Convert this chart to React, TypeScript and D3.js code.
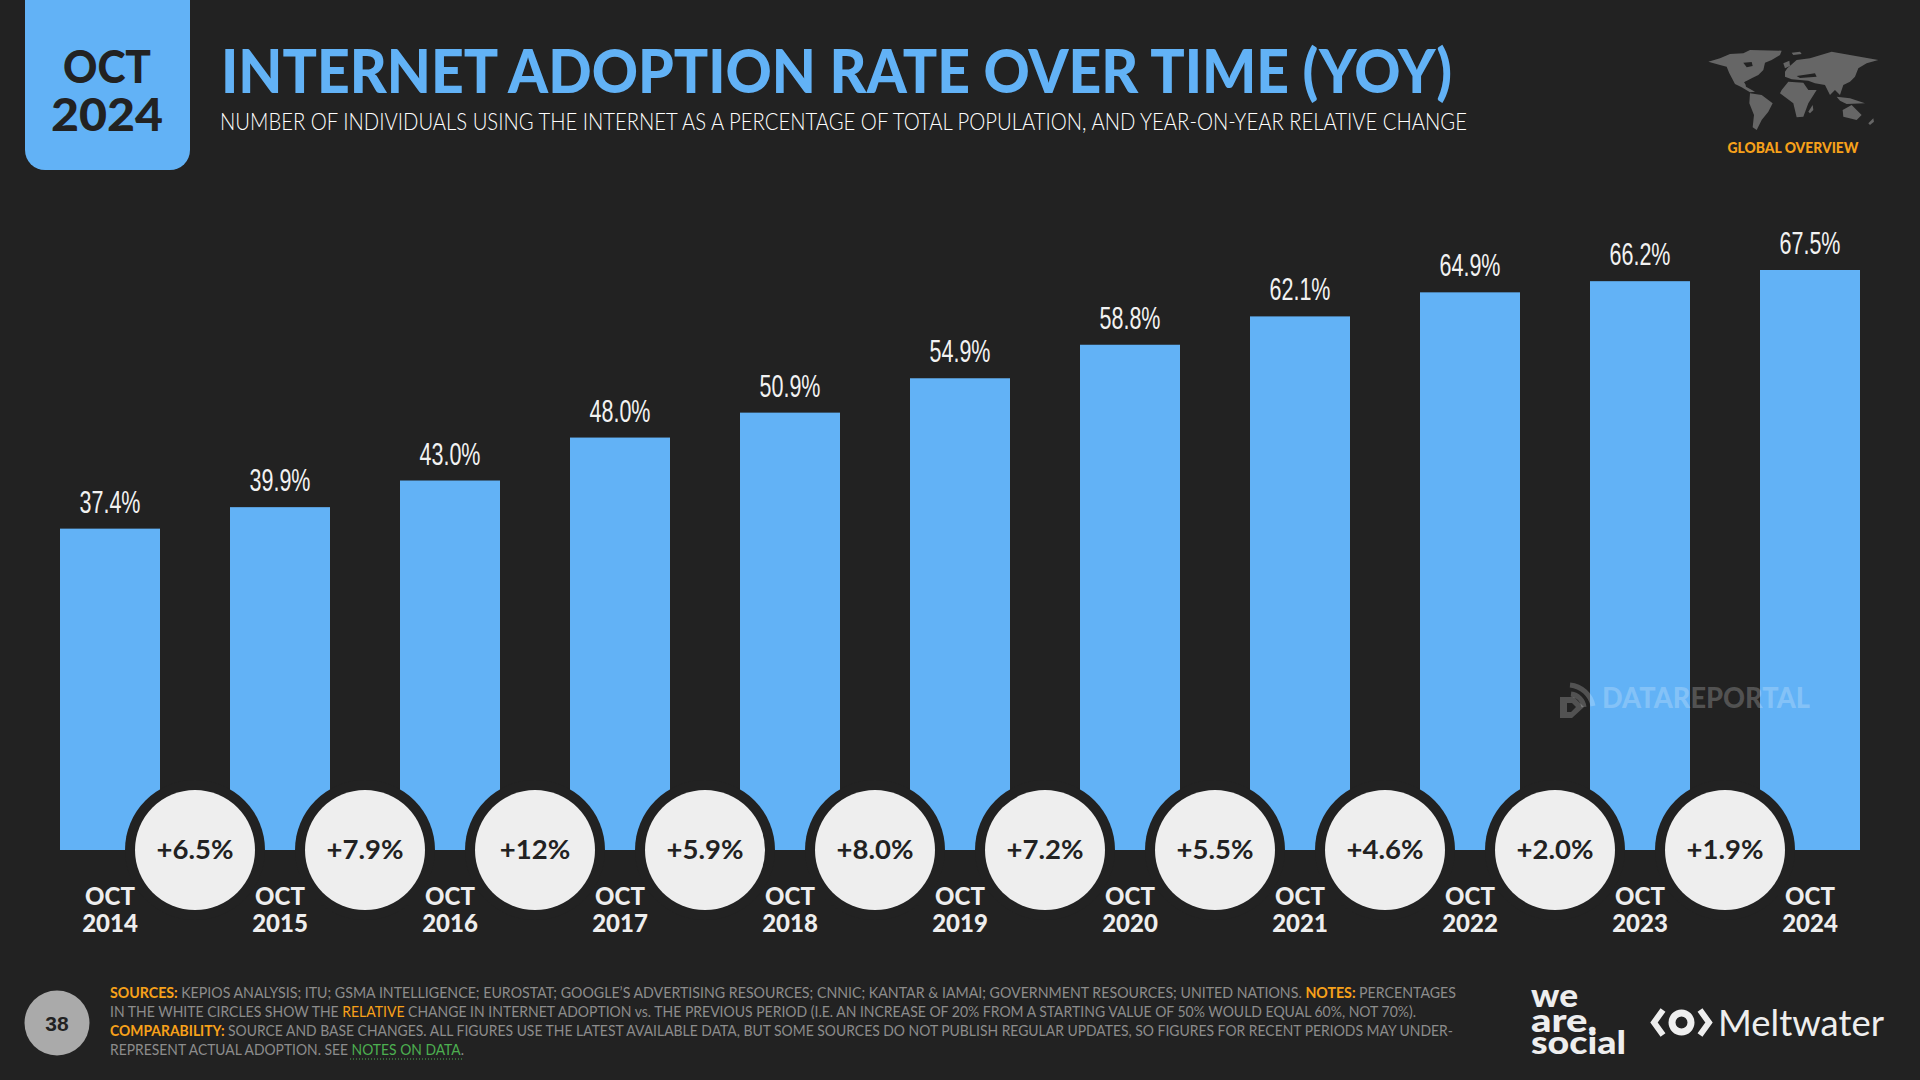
import { useEffect, useRef } from 'react';
import * as d3 from 'd3';

const years = ['2014', '2015', '2016', '2017', '2018', '2019', '2020', '2021', '2022', '2023', '2024'];
const adoption = [37.4, 39.9, 43.0, 48.0, 50.9, 54.9, 58.8, 62.1, 64.9, 66.2, 67.5];
const changes = ['+6.5%', '+7.9%', '+12%', '+5.9%', '+8.0%', '+7.2%', '+5.5%', '+4.6%', '+2.0%', '+1.9%'];

const BG = '#222222';
const BLUE = '#62B2F6';
const ORANGE = '#F7A11A';
const GREY = '#8C8C8C';
const GREEN = '#4CAF50';
const FONT = 'Lato, "Noto Sans", sans-serif';
const SANS = '"Liberation Sans", sans-serif';

type Run = [string, string, number?];

const footerLines: { x2: number; y: number; runs: Run[] }[] = [
  {
    x2: 1456,
    y: 998,
    runs: [
      ['SOURCES: ', ORANGE, 700],
      ['KEPIOS ANALYSIS; ITU; GSMA INTELLIGENCE; EUROSTAT; GOOGLE\u2019S ADVERTISING RESOURCES; CNNIC; KANTAR & IAMAI; GOVERNMENT RESOURCES; UNITED NATIONS. ', GREY],
      ['NOTES: ', ORANGE, 700],
      ['PERCENTAGES', GREY],
    ],
  },
  {
    x2: 1416,
    y: 1017,
    runs: [
      ['IN THE WHITE CIRCLES SHOW THE ', GREY],
      ['RELATIVE', ORANGE],
      [' CHANGE IN INTERNET ADOPTION vs. THE PREVIOUS PERIOD (I.E. AN INCREASE OF 20% FROM A STARTING VALUE OF 50% WOULD EQUAL 60%, NOT 70%).', GREY],
    ],
  },
  {
    x2: 1453,
    y: 1036,
    runs: [
      ['COMPARABILITY: ', ORANGE, 700],
      ['SOURCE AND BASE CHANGES. ALL FIGURES USE THE LATEST AVAILABLE DATA, BUT SOME SOURCES DO NOT PUBLISH REGULAR UPDATES, SO FIGURES FOR RECENT PERIODS MAY UNDER-', GREY],
    ],
  },
  {
    x2: 464,
    y: 1055,
    runs: [
      ['REPRESENT ACTUAL ADOPTION. SEE ', GREY],
      ['NOTES ON DATA', GREEN],
      ['.', GREY],
    ],
  },
];

// rough outline of the continents for the little header map, 3x units
const mapShapes = [
  'M25,65 L60,55 L90,42 L130,40 L150,30 L245,32 L240,45 L215,60 L195,68 L190,90 L175,105 L155,115 L135,125 L138,140 L165,155 L150,157 L125,142 L105,132 L88,100 L80,80 L60,75 Z',
  'M150,160 L185,165 L218,190 L205,215 L185,240 L170,270 L158,262 L162,225 L148,190 Z',
  'M245,150 L265,125 L310,128 L325,150 L350,150 L325,190 L310,230 L290,232 L280,190 L260,175 L240,160 Z',
  'M262,85 L290,60 L330,55 L395,35 L450,45 L535,60 L500,70 L475,85 L465,110 L450,125 L430,135 L420,165 L405,150 L390,165 L375,135 L345,130 L325,122 L275,118 L255,110 L255,95 Z',
  'M410,170 L450,175 L495,190 L440,192 L420,182 Z',
  'M428,210 L455,195 L485,225 L470,240 L430,230 Z',
  'M505,250 L520,235 L522,245 L510,255 Z',
  'M325,215 L338,195 L340,210 L330,220 Z',
  'M250,70 L268,62 L270,78 L255,85 Z',
  'M275,38 L300,35 L305,42 L280,45 Z',
];
const mapHoles = [
  'M130,68 L155,66 L158,78 L140,82 Z',
  'M132,126 L150,124 L152,130 L136,133 Z',
  'M290,108 L345,100 L350,110 L300,114 Z',
];

export default function App() {
  const svgRef = useRef<SVGSVGElement>(null);

  useEffect(() => {
    if (!svgRef.current) return;
    const svg = d3.select(svgRef.current);
    svg.selectAll('*').remove();

    svg.append('rect').attr('width', 1920).attr('height', 1080).attr('fill', BG);

    // date tab
    svg.append('path')
      .attr('d', 'M25,0 H190 V150 A20,20 0 0 1 170,170 H45 A20,20 0 0 1 25,150 Z')
      .attr('fill', BLUE);
    const tab = svg.append('g').attr('text-anchor', 'middle').attr('fill', BG)
      .attr('font-family', FONT).attr('font-weight', 900).attr('font-size', 46);
    tab.append('text').attr('x', 107).attr('y', 83).attr('textLength', 88).attr('lengthAdjust', 'spacingAndGlyphs').text('OCT');
    tab.append('text').attr('x', 107).attr('y', 131).attr('textLength', 112).attr('lengthAdjust', 'spacingAndGlyphs').text('2024');

    svg.append('text')
      .attr('x', 221).attr('y', 93)
      .attr('textLength', 1231).attr('lengthAdjust', 'spacingAndGlyphs')
      .attr('font-family', FONT).attr('font-weight', 900).attr('font-size', 60)
      .attr('fill', BLUE)
      .text('INTERNET ADOPTION RATE OVER TIME (YOY)');

    svg.append('text')
      .attr('x', 220).attr('y', 130)
      .attr('textLength', 1247).attr('lengthAdjust', 'spacingAndGlyphs')
      .attr('font-family', FONT).attr('font-weight', 300).attr('font-size', 23).attr('fill', '#FFFFFF')
      .text('NUMBER OF INDIVIDUALS USING THE INTERNET AS A PERCENTAGE OF TOTAL POPULATION, AND YEAR-ON-YEAR RELATIVE CHANGE');

    // header map
    const map = svg.append('g').attr('transform', 'translate(1700,40) scale(0.3333)');
    mapShapes.forEach(d => map.append('path').attr('d', d).attr('fill', '#666666'));
    mapHoles.forEach(d => map.append('path').attr('d', d).attr('fill', BG));
    svg.append('text')
      .attr('x', 1793).attr('y', 153).attr('text-anchor', 'middle')
      .attr('textLength', 131).attr('lengthAdjust', 'spacingAndGlyphs')
      .attr('font-family', FONT).attr('font-weight', 900).attr('font-size', 15).attr('fill', ORANGE)
      .text('GLOBAL OVERVIEW');

    // chart
    const x = d3.scaleBand<string>().domain(years).range([60, 1860]).paddingInner(70 / 170).paddingOuter(0);
    const y = d3.scaleLinear().domain([0, 67.5]).range([850, 270]);
    const bw = x.bandwidth();

    svg.append('g').selectAll('rect').data(years).join('rect')
      .attr('x', d => x(d)!)
      .attr('y', (_, i) => y(adoption[i]))
      .attr('width', bw)
      .attr('height', (_, i) => y(0) - y(adoption[i]))
      .attr('fill', BLUE);

    svg.append('g').selectAll('text').data(years).join('text')
      .attr('x', d => x(d)! + bw / 2)
      .attr('y', (_, i) => y(adoption[i]) - 16)
      .attr('text-anchor', 'middle')
      .attr('textLength', 61).attr('lengthAdjust', 'spacingAndGlyphs')
      .attr('font-family', SANS).attr('font-size', 32).attr('fill', '#F2F2F2')
      .text((_, i) => `${adoption[i].toFixed(1)}%`);

    const axis = svg.append('g').attr('text-anchor', 'middle').attr('fill', '#EEEEEE')
      .attr('font-family', FONT).attr('font-weight', 900).attr('font-size', 24);
    years.forEach(yr => {
      const cx = x(yr)! + bw / 2;
      axis.append('text').attr('x', cx).attr('y', 905).text('OCT');
      axis.append('text').attr('x', cx).attr('y', 932).text(yr);
    });

    // watermark
    const wm = svg.append('g').attr('fill', '#FFFFFF').attr('fill-opacity', 0.22);
    wm.append('text')
      .attr('x', 1602).attr('y', 708)
      .attr('textLength', 208).attr('lengthAdjust', 'spacingAndGlyphs')
      .attr('font-family', FONT).attr('font-weight', 900).attr('font-size', 29)
      .text('DATAREPORTAL');
    wm.append('path')
      .attr('fill-rule', 'evenodd')
      .attr('d', 'M1560,697 H1574 L1584,707 L1572,718 H1560 Z M1567,703 V712 H1571 L1576,707 L1572,703 Z');
    wm.append('path')
      .attr('fill', 'none').attr('stroke', '#FFFFFF').attr('stroke-opacity', 0.22).attr('stroke-width', 5)
      .attr('d', 'M1570,685 A26,26 0 0 1 1593,706 M1571,694 A15,15 0 0 1 1584,707');

    // change circles between bars
    const pairs = d3.pairs(years);
    const midX = (i: number) => (x(pairs[i][0])! + x(pairs[i][1])! + bw) / 2;
    const circles = svg.append('g');
    circles.selectAll('circle.halo').data(changes).join('circle')
      .attr('class', 'halo')
      .attr('cx', (_, i) => midX(i)).attr('cy', y(0)).attr('r', 70).attr('fill', BG);
    circles.selectAll('circle.disc').data(changes).join('circle')
      .attr('class', 'disc')
      .attr('cx', (_, i) => midX(i)).attr('cy', y(0)).attr('r', 60).attr('fill', '#EEEEEE');
    circles.selectAll('text').data(changes).join('text')
      .attr('x', (_, i) => midX(i)).attr('y', 858.5)
      .attr('text-anchor', 'middle')
      .attr('font-family', FONT).attr('font-weight', 700).attr('font-size', 27.5).attr('fill', BG)
      .text(d => d);

    // footer
    svg.append('circle').attr('cx', 57).attr('cy', 1023).attr('r', 32.5).attr('fill', '#AAAAAA');
    svg.append('text')
      .attr('x', 57).attr('y', 1031).attr('text-anchor', 'middle')
      .attr('font-family', SANS).attr('font-weight', 700).attr('font-size', 21).attr('fill', BG)
      .text('38');

    footerLines.forEach(line => {
      const t = svg.append('text')
        .attr('x', 110).attr('y', line.y)
        .attr('textLength', line.x2 - 110).attr('lengthAdjust', 'spacingAndGlyphs')
        .attr('font-family', FONT).attr('font-size', 15).attr('xml:space', 'preserve');
      line.runs.forEach(([s, c, w]) => {
        t.append('tspan').attr('fill', c).attr('font-weight', w ?? 400).text(s);
      });
    });
    svg.append('line')
      .attr('x1', 350).attr('x2', 463).attr('y1', 1059).attr('y2', 1059)
      .attr('stroke', GREEN).attr('stroke-width', 1).attr('stroke-dasharray', '1 2');

    // logos
    const ws = svg.append('g').attr('font-family', FONT).attr('font-weight', 900).attr('font-size', 33).attr('fill', '#EEEEEE');
    ws.append('text').attr('x', 1531).attr('y', 1007).attr('textLength', 47).attr('lengthAdjust', 'spacingAndGlyphs').text('we');
    ws.append('text').attr('x', 1531).attr('y', 1032).attr('textLength', 66).attr('lengthAdjust', 'spacingAndGlyphs').text('are.');
    ws.append('text').attr('x', 1531).attr('y', 1054).attr('textLength', 95).attr('lengthAdjust', 'spacingAndGlyphs').text('social');

    const mw = svg.append('g').attr('fill', 'none').attr('stroke', '#EEEEEE');
    mw.append('path').attr('stroke-width', 6).attr('d', 'M1663,1010 L1654,1022.5 L1663,1035');
    mw.append('path').attr('stroke-width', 6).attr('d', 'M1700,1010 L1709,1022.5 L1700,1035');
    mw.append('circle').attr('cx', 1681.5).attr('cy', 1022.5).attr('r', 9.5).attr('stroke-width', 7);
    svg.append('text')
      .attr('x', 1718).attr('y', 1036)
      .attr('textLength', 166).attr('lengthAdjust', 'spacingAndGlyphs')
      .attr('font-family', FONT).attr('font-size', 37).attr('fill', '#EEEEEE')
      .text('Meltwater');
  }, []);

  return <svg ref={svgRef} width={1920} height={1080} style={{ position: 'absolute', left: 0, top: 0 }} />;
}
